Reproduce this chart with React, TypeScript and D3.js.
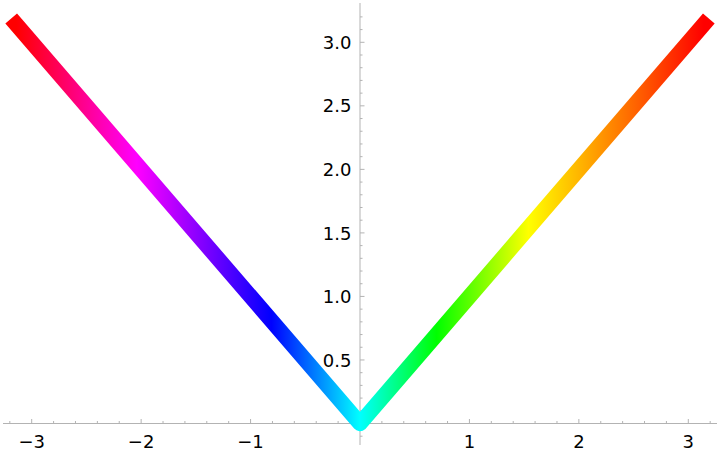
import React from "react";
import * as d3 from "d3";

// Curve vertices: y = |x| on [-π, π]
const curveX = [-Math.PI, 0, Math.PI];
const curveY = [Math.PI, 0, Math.PI];

// Colour stops (x position, colour)
const stopX = [-Math.PI, -2.04, -0.81, 0, 0.7, 1.54, Math.PI];
const stopColor = ["#ff0000", "#ff00ff", "#0000ff", "#00ffff", "#00ff00", "#ffff00", "#ff0000"];

// Tick labels
const xMajor = [-3, -2, -1, 1, 2, 3];
const xLabels = ["\u22123", "\u22122", "\u22121", "1", "2", "3"];
const yMajor = [0.5, 1, 1.5, 2, 2.5, 3];
const yLabels = ["0.5", "1.0", "1.5", "2.0", "2.5", "3.0"];

const W = 720;
const H = 454;

export default function App() {
  const x = d3.scaleLinear().domain([-3, 3]).range([31.7, 688.3]);
  const y = d3.scaleLinear().domain([0, 3]).range([423.5, 42.3]);

  const pts = curveX.map((v, i) => [v, curveY[i]] as [number, number]);
  const line = d3
    .line<[number, number]>()
    .x((d) => x(d[0]))
    .y((d) => y(d[1]));

  const gx1 = x(-Math.PI);
  const gx2 = x(Math.PI);

  const xMinor = d3.range(-16, 17).map((i) => i * 0.2).filter((v) => Math.abs(v - Math.round(v)) > 1e-6);
  const yMinor = d3.range(-1, 33).map((i) => i / 10).filter((v) => Math.abs(v * 2 - Math.round(v * 2)) > 1e-6);

  const axisColor = "#b3b3b3";
  const x0 = x(0);
  const y0 = y(0);

  return (
    <svg
      width={W}
      height={H}
      style={{ position: "absolute", left: 0, top: 0, background: "#fff" }}
      fontFamily="DejaVu Sans"
    >
      <defs>
        <linearGradient id="hueGrad" gradientUnits="userSpaceOnUse" x1={gx1} y1={0} x2={gx2} y2={0}>
          {stopX.map((s, i) => (
            <stop key={i} offset={(x(s) - gx1) / (gx2 - gx1)} stopColor={stopColor[i]} />
          ))}
        </linearGradient>
      </defs>

      {/* x axis */}
      <line x1={3} x2={717} y1={y0} y2={y0} stroke={axisColor} strokeWidth={1} />
      {xMinor.map((v, i) => (
        <line key={"xm" + i} x1={x(v)} x2={x(v)} y1={y0} y2={y0 - 2.5} stroke={axisColor} strokeWidth={1} />
      ))}
      {xMajor.map((v, i) => (
        <line key={"xM" + i} x1={x(v)} x2={x(v)} y1={y0} y2={y0 - 4.5} stroke={axisColor} strokeWidth={1} />
      ))}
      {xMajor.map((v, i) => (
        <text key={"xl" + i} x={x(v)} y={447.5} textAnchor="middle" fontSize={18} fill="#000">
          {xLabels[i]}
        </text>
      ))}

      {/* y axis */}
      <line x1={x0} x2={x0} y1={3} y2={445} stroke={axisColor} strokeWidth={1} />
      {yMinor.map((v, i) => (
        <line key={"ym" + i} x1={x0} x2={x0 + 2.5} y1={y(v)} y2={y(v)} stroke={axisColor} strokeWidth={1} />
      ))}
      {yMajor.map((v, i) => (
        <line key={"yM" + i} x1={x0} x2={x0 + 4.5} y1={y(v)} y2={y(v)} stroke={axisColor} strokeWidth={1} />
      ))}
      {yMajor.map((v, i) => (
        <text key={"yl" + i} x={351.5} y={y(v) + 6.6} textAnchor="end" fontSize={18} fill="#000">
          {yLabels[i]}
        </text>
      ))}

      {/* curve */}
      <path
        d={line(pts) || ""}
        fill="none"
        stroke="url(#hueGrad)"
        strokeWidth={15.4}
        strokeLinecap="square"
        strokeLinejoin="round"
      />
    </svg>
  );
}
